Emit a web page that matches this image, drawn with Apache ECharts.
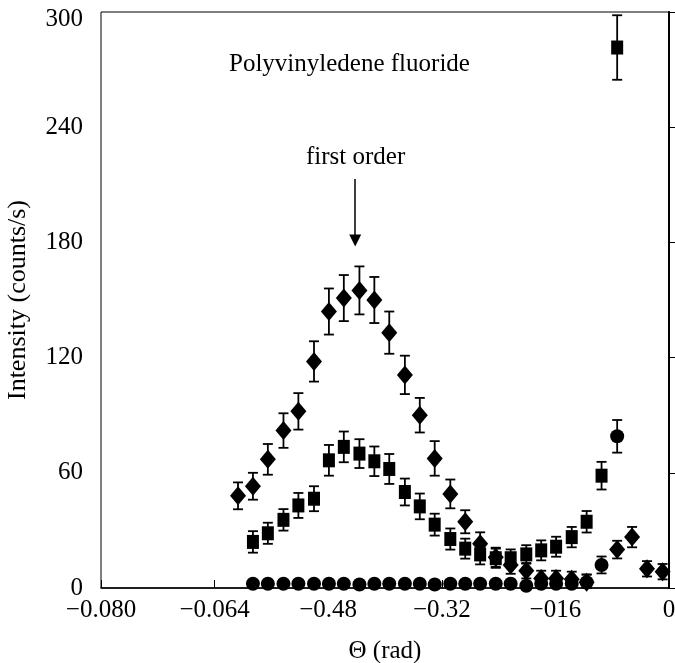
<!DOCTYPE html>
<html>
<head>
<meta charset="utf-8">
<title>Polyvinyledene fluoride</title>
<script src="https://cdn.jsdelivr.net/npm/echarts@6/dist/echarts.min.js"></script>
<style>
    html, body { margin: 0; padding: 0; background: #fff; }
    #chart { width: 675px; height: 663px; }
</style>
</head>
<body>
<div id="chart"></div>
<script>
// scattering angle (rad) of each measured point
var theta = [-0.0607, -0.0586, -0.0565, -0.0543, -0.0522, -0.0500, -0.0479, -0.0458, -0.0436, -0.0415,
    -0.0394, -0.0372, -0.0351, -0.0330, -0.0308, -0.0287, -0.0266, -0.0244, -0.0223, -0.0201,
    -0.0180, -0.0159, -0.0137, -0.0116, -0.0095, -0.0073, -0.0052, -0.0031, -0.0009]

// diamonds
var diamondVal = [48, 53, 67, 82, 92, 118, 144, 151, 155, 150,
    133, 111, 90, 67.5, 49, 34.5, 23, 16, 12, 9,
    5, 5, 4.5, 3, null, 20, 26.5, 10, 8.5]
var diamondErr = [7, 7, 8, 9, 9.5, 10.5, 12, 12, 12.5, 12,
    11, 10, 9, 9, 7.5, 6, 6, 5, 4.6, 4,
    4, 4, 4, 4, null, 4.6, 5.3, 4, 4]

// squares
var squareVal = [null, 24, 28.5, 35.5, 43, 46.5, 66.5, 73.5, 70, 66,
    62, 50, 42.5, 33, 25.5, 20.5, 17.5, 15.5, 15.5, 17.5,
    19.6, 21.5, 26.5, 34.5, 58.5, 281.5, null, null, null]
var squareErr = [null, 5.6, 5.5, 5.6, 6.5, 6.5, 8, 8, 7.5, 7.7,
    7.8, 7, 6.7, 5.7, 5.5, 5.2, 5.2, 5, 4.6, 4.8,
    5.2, 5.2, 5.3, 5.6, 7.2, 16.8, null, null, null]

// circles
var circleVal = [null, 2.2, 2.2, 2.2, 2.2, 2.2, 2.2, 2.2, 1.8, 2.2,
    2.2, 2.2, 2.2, 1.8, 2.2, 2.2, 2.2, 2.2, 2.2, 1.2,
    2.2, 2.2, 2.2, 3, 12, 79, null, null, null]
var circleErr = [null, 1, 1, 1, 1, 1, 1, 1, 1, 1,
    1, 1, 1, 1, 1, 1, 1, 1, 1, 1,
    1, 1, 1, 4, 4.4, 8.5, null, null, null]

// x tick labels as printed on the original figure
var xTickLabels = ['\u22120.080', '\u22120.064', '\u22120.48', '\u22120.32', '\u2212016', '0']

// arrow pointing at the first order peak
var arrowX = -0.0442
var arrowFrom = 213
var arrowTo = 181

var FONT = '"Liberation Serif", "DejaVu Serif", serif'

function points(vals) {
    var out = []
    for (var i = 0; i < theta.length; i++) {
        if (vals[i] != null) out.push([theta[i], vals[i]])
    }
    return out
}

function bars(vals, errs) {
    var out = []
    for (var i = 0; i < theta.length; i++) {
        if (vals[i] != null && errs[i] != null) {
            out.push([theta[i], Math.max(0, vals[i] - errs[i]), vals[i] + errs[i]])
        }
    }
    return out
}

function renderErrorBar(params, api) {
    var lo = api.coord([api.value(0), api.value(1)])
    var hi = api.coord([api.value(0), api.value(2)])
    var w = 5
    var style = { stroke: '#000', lineWidth: 1.8 }
    return {
        type: 'group',
        children: [
            { type: 'line', shape: { x1: lo[0], y1: lo[1], x2: hi[0], y2: hi[1] }, style: style },
            { type: 'line', shape: { x1: hi[0] - w, y1: hi[1], x2: hi[0] + w, y2: hi[1] }, style: style },
            { type: 'line', shape: { x1: lo[0] - w, y1: lo[1], x2: lo[0] + w, y2: lo[1] }, style: style }
        ]
    }
}

function errorSeries(vals, errs) {
    return {
        type: 'custom',
        renderItem: renderErrorBar,
        data: bars(vals, errs),
        encode: { x: 0, y: [1, 2] },
        silent: true,
        z: 2
    }
}

var chart = echarts.init(document.getElementById('chart'))
chart.setOption({
    animation: false,
    backgroundColor: '#fff',
    textStyle: { fontFamily: FONT, color: '#000' },
    title: [
        {
            text: 'Polyvinyledene fluoride',
            left: 224,
            top: 47,
            textStyle: { fontFamily: FONT, fontSize: 25, fontWeight: 'normal', color: '#000' }
        },
        {
            text: 'first order',
            left: 301,
            top: 140,
            textStyle: { fontFamily: FONT, fontSize: 25, fontWeight: 'normal', color: '#000' }
        }
    ],
    grid: {
        left: 101,
        right: 6,
        top: 12,
        bottom: 75,
        outerBoundsMode: 'none',
        show: true,
        borderColor: '#000',
        borderWidth: 1
    },
    xAxis: {
        type: 'value',
        min: -0.08,
        max: 0,
        interval: 0.016,
        name: '\u0398 (rad)',
        nameLocation: 'middle',
        nameGap: 51,
        nameTextStyle: { fontFamily: FONT, fontSize: 25, color: '#000' },
        axisLine: { lineStyle: { color: '#000', width: 1.5 } },
        axisTick: { inside: true, length: 8, lineStyle: { color: '#000' } },
        axisLabel: {
            margin: 10,
            fontFamily: FONT,
            fontSize: 25,
            color: '#000',
            showMaxLabel: true,
            showMinLabel: true,
            formatter: function (v) {
                return xTickLabels[Math.round((v + 0.08) / 0.016)]
            }
        },
        splitLine: { show: false }
    },
    yAxis: [
        {
            type: 'value',
            min: 0,
            max: 300,
            interval: 60,
            name: 'Intensity (counts/s)',
            nameLocation: 'middle',
            nameGap: 70,
            nameTextStyle: { fontFamily: FONT, fontSize: 26, color: '#000' },
            axisLine: { show: true, lineStyle: { color: '#000', width: 1.5 } },
            axisTick: { inside: true, length: 9, lineStyle: { color: '#000' } },
            axisLabel: {
                margin: 18,
                fontFamily: FONT,
                fontSize: 25,
                color: '#000',
                // the top label sits a little below its tick in the original
                formatter: function (v) {
                    return v === 300 ? '{top|300}' : String(v)
                },
                rich: {
                    top: { fontFamily: FONT, fontSize: 25, color: '#000', padding: [14, 0, 0, 0] }
                }
            },
            splitLine: { show: false }
        },
        {
            // right frame edge
            type: 'value',
            position: 'right',
            min: 0,
            max: 300,
            interval: 60,
            axisLine: { show: true, lineStyle: { color: '#000', width: 2 } },
            axisTick: { show: false },
            axisLabel: { show: false },
            splitLine: { show: false }
        }
    ],
    series: [
        errorSeries(diamondVal, diamondErr),
        errorSeries(squareVal, squareErr),
        errorSeries(circleVal, circleErr),
        {
            name: 'diamond',
            type: 'scatter',
            symbol: 'diamond',
            symbolSize: [16, 19],
            itemStyle: { color: '#000', opacity: 1 },
            data: points(diamondVal),
            z: 3,
            markLine: {
                silent: true,
                symbol: ['none', 'triangle'],
                symbolSize: 12,
                label: { show: false },
                lineStyle: { color: '#000', width: 1.5, type: 'solid', opacity: 1 },
                data: [[{ coord: [arrowX, arrowFrom] }, { coord: [arrowX, arrowTo] }]]
            }
        },
        {
            name: 'square',
            type: 'scatter',
            symbol: 'rect',
            symbolSize: [12, 14],
            itemStyle: { color: '#000', opacity: 1 },
            data: points(squareVal),
            z: 3
        },
        {
            name: 'circle',
            type: 'scatter',
            symbol: 'circle',
            symbolSize: 14,
            itemStyle: { color: '#000', opacity: 1 },
            data: points(circleVal),
            z: 3
        }
    ]
})
</script>
</body>
</html>
